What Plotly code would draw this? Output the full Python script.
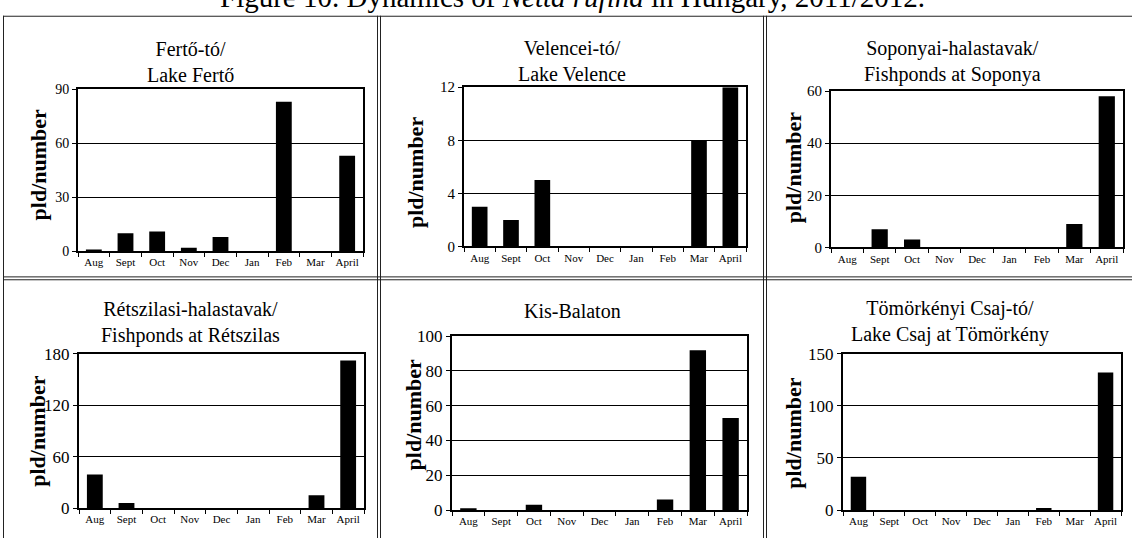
import plotly.graph_objects as go

months = ["Aug", "Sept", "Oct", "Nov", "Dec", "Jan", "Feb", "Mar", "April"]

panel_titles = [
    "Fertő-tó/<br>Lake Fertő",
    "Velencei-tó/<br>Lake Velence",
    "Soponyai-halastavak/<br>Fishponds at Soponya",
    "Rétszilasi-halastavak/<br>Fishponds at Rétszilas",
    "Kis-Balaton",
    "Tömörkényi Csaj-tó/<br>Lake Csaj at Tömörkény",
]
ferto = [1, 10, 11, 2, 8, 0, 83, 0, 53]
velence = [3, 2, 5, 0, 0, 0, 0, 8, 12]
soponya = [0, 7, 3, 0, 0, 0, 0, 9, 58]
retszilas = [39, 6, 0, 0, 0, 0, 0, 15, 172]
kisbalaton = [1, 0, 3, 0, 0, 0, 6, 92, 53]
tomorkeny = [32, 0, 0, 0, 0, 0, 2, 0, 132]
series = [ferto, velence, soponya, retszilas, kisbalaton, tomorkeny]
y_max = [90, 12, 60, 180, 100, 150]
y_step = [30, 4, 20, 60, 20, 50]
y_label = "pld/number"
fig_title = "Figure 10. Dynamics of <i>Netta rufina</i> in Hungary, 2011/2012."

W, H = 1132, 548
def px(x):
    return x / W
def py(y):
    return 1 - y / H

# plot areas in pixels: left, right, top, bottom
boxes = [
    (78, 363, 83, 251),
    (464, 746, 81, 246),
    (831, 1123, 85, 247),
    (79, 364, 357, 517),
    (452, 747, 339, 519),
    (843, 1121, 357, 519),
]
title_pos = [(190, 55), (572, 54), (952, 54), (190, 325), (572, 313), (950, 324)]
ylab_pos = [(38, 162), (415, 170), (793, 165), (38, 438), (413, 421), (794, 440)]
ytick_size = [14, 15, 15, 17, 17, 17]

FONT = "Liberation Serif, Times New Roman, serif"
fig = go.Figure()
annotations = []
layout = {}
for i, (vals, box) in enumerate(zip(series, boxes)):
    n = i + 1
    xa = "x" if n == 1 else f"x{n}"
    ya = "y" if n == 1 else f"y{n}"
    fig.add_trace(go.Bar(x=months, y=vals, xaxis=xa, yaxis=ya,
                         marker=dict(color="black", line=dict(width=0)),
                         width=0.5, showlegend=False))
    l, r, t, b = box
    layout[f"xaxis{'' if n == 1 else n}"] = dict(
        domain=[px(l), px(r)], anchor=ya, showline=True, mirror=True,
        linecolor="black", linewidth=2, ticks="outside", ticklen=4,
        tickcolor="black", tickson="boundaries", showgrid=False, tickangle=0,
        tickfont=dict(family=FONT, size=11, color="black"), fixedrange=True,
    )
    layout[f"yaxis{'' if n == 1 else n}"] = dict(
        domain=[py(b), py(t)], anchor=xa, range=[0, y_max[i]], dtick=y_step[i],
        showline=True, mirror=True, linecolor="black", linewidth=2,
        ticks="outside", ticklen=4, tickcolor="black", showgrid=True,
        gridcolor="black", gridwidth=1, zeroline=False,
        tickfont=dict(family=FONT, size=ytick_size[i], color="black"), fixedrange=True,
    )
    tx, ty = title_pos[i]
    annotations.append(dict(text=panel_titles[i], x=px(tx), y=py(ty), xref="paper", yref="paper",
                            xanchor="center", yanchor="middle", showarrow=False,
                            font=dict(family=FONT, size=20, color="black")))
    lx, ly = ylab_pos[i]
    annotations.append(dict(text=f"<b>{y_label}</b>", x=px(lx), y=py(ly), xref="paper", yref="paper",
                            xanchor="center", yanchor="middle", showarrow=False, textangle=-90,
                            font=dict(family=FONT, size=22, color="black")))

annotations.append(dict(text=fig_title, x=px(572), y=py(-12), xref="paper", yref="paper",
                        xanchor="center", yanchor="middle", showarrow=False,
                        font=dict(family=FONT, size=29, color="black")))

# table cell borders
shapes = []
def hline(x0, x1, y):
    shapes.append(dict(type="line", xref="paper", yref="paper", x0=px(x0), x1=px(x1),
                       y0=py(y), y1=py(y), line=dict(color="#222", width=1)))
def vline(x, y0, y1):
    shapes.append(dict(type="line", xref="paper", yref="paper", x0=px(x), x1=px(x),
                       y0=py(y0), y1=py(y1), line=dict(color="#222", width=1)))
hline(3, 1132, 7.5)
hline(3, 1132, 277.5)
hline(3, 1132, 280.5)
vline(3.5, 7, 548)
vline(377.5, 7, 548)
vline(380.5, 7, 548)
vline(763.5, 7, 548)
vline(766.5, 7, 548)

fig.update_layout(**layout)
fig.update_layout(
    width=W, height=H, margin=dict(l=0, r=0, t=0, b=0),
    paper_bgcolor="white", plot_bgcolor="white",
    annotations=annotations, shapes=shapes, bargap=0.5,
    font=dict(family=FONT, color="black"),
)
fig.write_html("out.html", config={"displayModeBar": False},
               post_script="document.body.style.margin='0';document.body.style.overflow='hidden';")
